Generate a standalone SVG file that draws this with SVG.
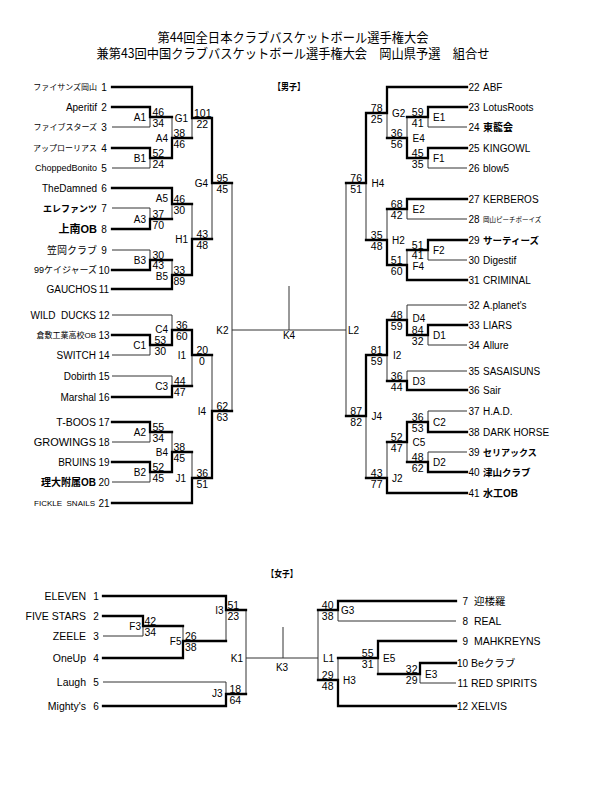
<svg xmlns="http://www.w3.org/2000/svg" width="610" height="791" viewBox="0 0 610 791">
<style>
text{font-family:"Liberation Sans","Noto Sans CJK JP",sans-serif;fill:#000}
.ttl{font-family:"Noto Sans CJK JP","Liberation Sans",sans-serif;font-size:13px;text-anchor:middle}
.hd{font-family:"Noto Sans CJK JP",sans-serif;font-size:9.5px;font-weight:bold;text-anchor:middle}
.nl{text-anchor:end;font-size:10px}
.nr{font-size:10px}
.wn{font-size:10.5px}
.num{font-size:10px}
.nc{text-anchor:middle}
.ne{text-anchor:end}
.sc{font-size:10.5px}
.se{text-anchor:end}
.lb{font-size:10px}
.le{text-anchor:end}
.lm{text-anchor:middle}
.b{font-weight:bold}
.pre{white-space:pre}
.thin{fill:none;stroke:#333;stroke-width:1}
.thick{fill:none;stroke:#000;stroke-width:2.3;stroke-linecap:square;stroke-linejoin:miter}
</style>
<rect width="610" height="791" fill="#fff"/>
<g id="title">
<text class="ttl" x="293" y="41.5" textLength="271" lengthAdjust="spacingAndGlyphs">第44回全日本クラブバスケットボール選手権大会</text>
<text class="ttl" x="293" y="57.5" textLength="393" lengthAdjust="spacingAndGlyphs">兼第43回中国クラブバスケットボール選手権大会　岡山県予選　組合せ</text>
<text class="hd" x="289" y="90" textLength="32" lengthAdjust="spacingAndGlyphs">【男子】</text>
<text class="hd" x="282" y="576.5" textLength="31" lengthAdjust="spacingAndGlyphs">【女子】</text>
</g>
<g id="connectors">
<path class="thin" d="M112 87H192M112 107H150M112 127H150M112 148H150M112 168H150M112 188H172M112 208H150M112 229H150M112 250H150M112 270H150M112 289H172M112 315H172M112 335H150M112 355H150M112 376H172M112 397H172M112 422H150M112 442H150M112 462H150M112 482H150M112 503H192"/>
<path class="thin" d="M150 107V127M150 117H172M150 148V168M150 158H172M172 117V158M172 138H192M192 87V138M192 118H212M150 208V229M150 219H172M172 188V219M172 204H192M150 250V270M150 260H172M172 260V289M172 275H192M192 204V275M192 239H212M212 118V239M212 183H232M150 335V355M150 345H172M172 315V345M172 330H192M172 376V397M172 386H192M192 330V386M192 355H212M150 422V442M150 432H172M150 462V482M150 472H172M172 432V472M172 452H192M192 452V503M192 478H212M212 355V478M212 411H232M232 183V411M232 330H346M289 286V330"/>
<path class="thin" d="M387 87H467M428 107H467M428 127H467M428 148H467M428 168H467M407 199H467M407 219H467M428 240H467M428 260H467M407 280H467M407 305H467M428 325H467M428 345H467M407 371H467M407 390H467M428 411H467M428 432H467M428 452H467M428 472H467M387 493H467"/>
<path class="thin" d="M428 107V127M428 117H407M428 148V168M428 158H407M407 117V158M407 138H387M387 87V138M387 113H366M407 199V219M407 209H387M428 240V260M428 250H407M407 250V280M407 265H387M387 209V265M387 240H366M366 113V240M366 183H346M428 325V345M428 335H407M407 305V335M407 320H387M407 371V390M407 381H387M387 320V381M387 355H366M428 411V432M428 422H407M428 452V472M428 462H407M407 422V462M407 442H387M387 442V493M387 478H366M366 355V478M366 416H346M346 183V416"/>
<path class="thick" d="M112 107H150V117H172M112 148H150V158H172M172 158V138H192M112 87H192V118H212M112 229H150V219H172M112 188H172V204H192M112 270H150V260H172M112 289H172V275H192M192 275V239H212M212 118V183H232M112 335H150V345H172M172 345V330H192M112 397H172V386H192M192 330V355H212M112 422H150V432H172M112 462H150V472H172M172 472V452H192M112 503H192V478H212M212 478V411H232"/>
<path class="thick" d="M467 107H428V117H407M467 148H428V158H407M407 158V138H387M467 87H387V113H366M467 199H407V209H387M467 240H428V250H407M467 280H407V265H387M387 265V240H366M366 113V183H346M467 325H428V335H407M407 335V320H387M467 390H407V381H387M387 320V355H366M467 432H428V422H407M467 472H428V462H407M407 422V442H387M467 493H387V478H366M366 355V416H346"/>
<path class="thin" d="M103 596H226M103 616H143M103 636H143M103 658H183M103 682H226M103 706H226M338 601H456M338 621H456M378 641H456M420 663H456M420 683H456M338 706H456"/>
<path class="thin" d="M143 616V636M143 626H183M183 626V658M183 641H226M226 596V641M226 610H246M226 682V706M226 694H246M246 610V694M246 658H318M283 627V658M338 601V621M338 610H318M420 663V683M420 674H378M378 641V674M378 658H338M338 658V706M338 680H318M318 610V680"/>
<path class="thick" d="M103 616H143V626H183M103 658H183V641H226M103 596H226V610H246M103 706H226V694H246M456 601H338V610H318M456 663H420V674H378M456 641H378V658H338M456 706H338V680H318"/>
</g>
<g id="team-1"><text class="nl" x="97" y="90" style="font-size:8px">ファイサンズ岡山</text><text class="num nc" x="104" y="90.5">1</text></g>
<g id="team-2"><text class="nl" x="97" y="110.5">Aperitif</text><text class="num nc" x="104" y="110.5">2</text></g>
<g id="team-3"><text class="nl" x="97" y="130" style="font-size:8px">ファイブスターズ</text><text class="num nc" x="104" y="130.5">3</text></g>
<g id="team-4"><text class="nl" x="97" y="151" style="font-size:8px">アップローリアス</text><text class="num nc" x="104" y="151.5">4</text></g>
<g id="team-5"><text class="nl" x="97" y="171.2" style="font-size:9px">ChoppedBonito</text><text class="num nc" x="104" y="171.5">5</text></g>
<g id="team-6"><text class="nl" x="97" y="191.5">TheDamned</text><text class="num nc" x="104" y="191.5">6</text></g>
<g id="team-7"><text class="nl b" x="97" y="211.5" style="font-size:9px">エレファンツ</text><text class="num nc" x="104" y="211.5">7</text></g>
<g id="team-8"><text class="nl b" x="97" y="233" style="font-size:11px">上南OB</text><text class="num nc" x="104" y="232.5">8</text></g>
<g id="team-9"><text class="nl" x="97" y="253.5">笠岡クラブ</text><text class="num nc" x="104" y="253.5">9</text></g>
<g id="team-10"><text class="nl" x="97" y="273.3" style="font-size:9px">99ケイジャーズ</text><text class="num nc" x="104" y="273.5">10</text></g>
<g id="team-11"><text class="nl" x="97" y="292.5">GAUCHOS</text><text class="num nc" x="104" y="292.5">11</text></g>
<g id="team-12"><text class="nl pre" x="96" y="318.5">WILD  DUCKS</text><text class="num nc" x="104" y="318.5">12</text></g>
<g id="team-13"><text class="nl" x="96" y="338" style="font-size:8px">倉敷工業高校OB</text><text class="num nc" x="104" y="338.5">13</text></g>
<g id="team-14"><text class="nl" x="96" y="358.5">SWITCH</text><text class="num nc" x="104" y="358.5">14</text></g>
<g id="team-15"><text class="nl" x="96" y="379.5">Dobirth</text><text class="num nc" x="104" y="379.5">15</text></g>
<g id="team-16"><text class="nl" x="96" y="400.5">Marshal</text><text class="num nc" x="104" y="400.5">16</text></g>
<g id="team-17"><text class="nl" x="96" y="425.7" style="font-size:10.5px">T-BOOS</text><text class="num nc" x="104" y="425.5">17</text></g>
<g id="team-18"><text class="nl" x="96" y="446" style="font-size:11px">GROWINGS</text><text class="num nc" x="104" y="445.5">18</text></g>
<g id="team-19"><text class="nl" x="96" y="465.5">BRUINS</text><text class="num nc" x="104" y="465.5">19</text></g>
<g id="team-20"><text class="nl b" x="96" y="485.5">理大附属OB</text><text class="num nc" x="104" y="485.5">20</text></g>
<g id="team-21"><text class="nl pre" x="95" y="506" style="font-size:8px">FICKLE  SNAILS</text><text class="num nc" x="104" y="506.5">21</text></g>
<g id="team-22"><text class="num" x="468.5" y="90.5">22</text><text class="nr" x="483" y="90.5">ABF</text></g>
<g id="team-23"><text class="num" x="468.5" y="110.5">23</text><text class="nr" x="483" y="110.5">LotusRoots</text></g>
<g id="team-24"><text class="num" x="468.5" y="130.5">24</text><text class="nr b" x="483" y="131">東籠会</text></g>
<g id="team-25"><text class="num" x="468.5" y="151.5">25</text><text class="nr" x="483" y="151.5">KINGOWL</text></g>
<g id="team-26"><text class="num" x="468.5" y="171.5">26</text><text class="nr" x="483" y="171.5">blow5</text></g>
<g id="team-27"><text class="num" x="468.5" y="202.5">27</text><text class="nr" x="483" y="202.5">KERBEROS</text></g>
<g id="team-28"><text class="num" x="468.5" y="222.5">28</text><text class="nr" x="483" y="221.8" style="font-size:6.5px">岡山ピーチボーイズ</text></g>
<g id="team-29"><text class="num" x="468.5" y="243.5">29</text><text class="nr b" x="483" y="244" style="font-size:9.5px">サーティーズ</text></g>
<g id="team-30"><text class="num" x="468.5" y="263.5">30</text><text class="nr" x="483" y="263.5">Digestif</text></g>
<g id="team-31"><text class="num" x="468.5" y="283.5">31</text><text class="nr" x="483" y="283.5">CRIMINAL</text></g>
<g id="team-32"><text class="num" x="468.5" y="308.5">32</text><text class="nr" x="483" y="308.5">A.planet's</text></g>
<g id="team-33"><text class="num" x="468.5" y="328.5">33</text><text class="nr" x="483" y="328.5">LIARS</text></g>
<g id="team-34"><text class="num" x="468.5" y="348.5">34</text><text class="nr" x="483" y="348.5">Allure</text></g>
<g id="team-35"><text class="num" x="468.5" y="374.5">35</text><text class="nr" x="483" y="374.5">SASAISUNS</text></g>
<g id="team-36"><text class="num" x="468.5" y="393.5">36</text><text class="nr" x="483" y="393.5">Sair</text></g>
<g id="team-37"><text class="num" x="468.5" y="414.5">37</text><text class="nr" x="483" y="414.5">H.A.D.</text></g>
<g id="team-38"><text class="num" x="468.5" y="435.5">38</text><text class="nr" x="483" y="435.5">DARK HORSE</text></g>
<g id="team-39"><text class="num" x="468.5" y="455.5">39</text><text class="nr b" x="483" y="455.8" style="font-size:9px">セリアックス</text></g>
<g id="team-40"><text class="num" x="468.5" y="475.5">40</text><text class="nr b" x="483" y="476" style="font-size:9.5px">津山クラブ</text></g>
<g id="team-41"><text class="num" x="468.5" y="496.5">41</text><text class="nr b" x="483" y="497">水工OB</text></g>
<g id="match-A1"><text class="lb le" x="146" y="120.5">A1</text><text class="sc" x="152.5" y="115.5">46</text><text class="sc" x="152.5" y="126.5">34</text></g>
<g id="match-B1"><text class="lb le" x="146" y="161.5">B1</text><text class="sc" x="152.5" y="156.5">52</text><text class="sc" x="152.5" y="167.5">24</text></g>
<g id="match-A4"><text class="lb le" x="168" y="141.5">A4</text><text class="sc" x="173.5" y="136.5">38</text><text class="sc" x="173.5" y="147.5">46</text></g>
<g id="match-G1"><text class="lb le" x="188" y="121.5">G1</text><text class="sc" x="194" y="116.5">101</text><text class="sc" x="196.5" y="127.5">22</text></g>
<g id="match-A3"><text class="lb le" x="146" y="222.5">A3</text><text class="sc" x="152.5" y="217.5">37</text><text class="sc" x="152.5" y="228.5">70</text></g>
<g id="match-A5"><text class="lb le" x="168" y="202">A5</text><text class="sc" x="173.5" y="202.5">46</text><text class="sc" x="173.5" y="213.5">30</text></g>
<g id="match-B3"><text class="lb le" x="146" y="263.5">B3</text><text class="sc" x="152.5" y="258.5">30</text><text class="sc" x="152.5" y="269">43</text></g>
<g id="match-B5"><text class="lb le" x="168" y="279.5">B5</text><text class="sc" x="173.5" y="273.5">33</text><text class="sc" x="173.5" y="284.5">89</text></g>
<g id="match-H1"><text class="lb le" x="188" y="242.5">H1</text><text class="sc" x="196.5" y="237.5">43</text><text class="sc" x="196.5" y="248.5">48</text></g>
<g id="match-G4"><text class="lb le" x="208" y="186.5">G4</text><text class="sc" x="216.5" y="181.5">95</text><text class="sc" x="216.5" y="192.5">45</text></g>
<g id="match-C1"><text class="lb le" x="146" y="348.5">C1</text><text class="sc" x="154.5" y="344">53</text><text class="sc" x="154.5" y="355">30</text></g>
<g id="match-C4"><text class="lb le" x="168" y="332.5">C4</text><text class="sc" x="176" y="328.5">36</text><text class="sc" x="176" y="339.5">60</text></g>
<g id="match-C3"><text class="lb le" x="168" y="389.5">C3</text><text class="sc" x="174" y="384.5">44</text><text class="sc" x="174" y="395.5">47</text></g>
<g id="match-I1"><text class="lb le" x="186" y="358.5">I1</text><text class="sc" x="196.5" y="353.5">20</text><text class="sc" x="199" y="364.5">0</text></g>
<g id="match-A2"><text class="lb le" x="146" y="435.5">A2</text><text class="sc" x="152.5" y="430.5">55</text><text class="sc" x="152.5" y="441.5">34</text></g>
<g id="match-B2"><text class="lb le" x="146" y="475.5">B2</text><text class="sc" x="152.5" y="470.5">52</text><text class="sc" x="152.5" y="481.5">45</text></g>
<g id="match-B4"><text class="lb le" x="168" y="455.5">B4</text><text class="sc" x="173.5" y="450.5">38</text><text class="sc" x="173.5" y="461.5">45</text></g>
<g id="match-J1"><text class="lb le" x="186" y="481.5">J1</text><text class="sc" x="196.5" y="476.5">36</text><text class="sc" x="196.5" y="487.5">51</text></g>
<g id="match-I4"><text class="lb le" x="206" y="414.5">I4</text><text class="sc" x="216.5" y="409.5">62</text><text class="sc" x="216.5" y="420.5">63</text></g>
<g id="match-K2"><text class="lb le" x="228.5" y="333.5">K2</text></g>
<g id="match-K4"><text class="lb lm" x="289" y="339">K4</text></g>
<g id="match-E1"><text class="lb" x="433" y="120.5">E1</text><text class="sc se" x="423.5" y="115.5">59</text><text class="sc se" x="423.5" y="126.5">41</text></g>
<g id="match-F1"><text class="lb" x="433" y="161.5">F1</text><text class="sc se" x="423.5" y="156.5">45</text><text class="sc se" x="423.5" y="167.5">35</text></g>
<g id="match-E4"><text class="lb" x="412.5" y="141.5">E4</text><text class="sc se" x="402.5" y="136.5">36</text><text class="sc se" x="402.5" y="147.5">56</text></g>
<g id="match-G2"><text class="lb" x="392" y="116.5">G2</text><text class="sc se" x="382.5" y="111.5">78</text><text class="sc se" x="382.5" y="122.5">25</text></g>
<g id="match-E2"><text class="lb" x="412.5" y="212.5">E2</text><text class="sc se" x="402.5" y="207.5">68</text><text class="sc se" x="402.5" y="218.5">42</text></g>
<g id="match-F2"><text class="lb" x="433" y="253.5">F2</text><text class="sc se" x="423.5" y="248.5">51</text><text class="sc se" x="423.5" y="259">41</text></g>
<g id="match-F4"><text class="lb" x="412.5" y="270">F4</text><text class="sc se" x="402.5" y="263.5">51</text><text class="sc se" x="402.5" y="274.5">60</text></g>
<g id="match-H2"><text class="lb" x="392" y="243.5">H2</text><text class="sc se" x="382.5" y="238.5">35</text><text class="sc se" x="382.5" y="249.5">48</text></g>
<g id="match-H4"><text class="lb" x="371.5" y="186.5">H4</text><text class="sc se" x="362" y="181.5">76</text><text class="sc se" x="362" y="192.5">51</text></g>
<g id="match-D1"><text class="lb" x="433" y="338.5">D1</text><text class="sc se" x="423.5" y="334">84</text><text class="sc se" x="423.5" y="344.5">32</text></g>
<g id="match-D4"><text class="lb" x="412.5" y="322">D4</text><text class="sc se" x="402.5" y="318.5">48</text><text class="sc se" x="402.5" y="329.5">59</text></g>
<g id="match-D3"><text class="lb" x="412.5" y="384.5">D3</text><text class="sc se" x="402.5" y="379.5">36</text><text class="sc se" x="402.5" y="390.5">44</text></g>
<g id="match-I2"><text class="lb" x="393" y="358.5">I2</text><text class="sc se" x="382.5" y="353.5">81</text><text class="sc se" x="382.5" y="364.5">59</text></g>
<g id="match-C2"><text class="lb" x="433" y="425.5">C2</text><text class="sc se" x="423.5" y="420.5">36</text><text class="sc se" x="423.5" y="431.5">53</text></g>
<g id="match-D2"><text class="lb" x="433" y="465.5">D2</text><text class="sc se" x="423.5" y="460.5">48</text><text class="sc se" x="423.5" y="471.5">62</text></g>
<g id="match-C5"><text class="lb" x="412.5" y="445.5">C5</text><text class="sc se" x="402.5" y="440.5">52</text><text class="sc se" x="402.5" y="451.5">47</text></g>
<g id="match-J2"><text class="lb" x="392" y="481.5">J2</text><text class="sc se" x="382.5" y="476.5">43</text><text class="sc se" x="382.5" y="487.5">77</text></g>
<g id="match-J4"><text class="lb" x="371.5" y="419.5">J4</text><text class="sc se" x="362" y="414.5">87</text><text class="sc se" x="362" y="425.5">82</text></g>
<g id="match-L2"><text class="lb" x="348" y="333.5">L2</text></g>
<g id="wteam-1"><text class="nl wn" x="86" y="599.5">ELEVEN</text><text class="num nc" x="96" y="599.5">1</text></g>
<g id="wteam-2"><text class="nl wn" x="86" y="619.5">FIVE STARS</text><text class="num nc" x="96" y="619.5">2</text></g>
<g id="wteam-3"><text class="nl wn" x="86" y="639.5">ZEELE</text><text class="num nc" x="96" y="639.5">3</text></g>
<g id="wteam-4"><text class="nl wn" x="86" y="661.5">OneUp</text><text class="num nc" x="96" y="661.5">4</text></g>
<g id="wteam-5"><text class="nl wn" x="86" y="685.5">Laugh</text><text class="num nc" x="96" y="685.5">5</text></g>
<g id="wteam-6"><text class="nl wn" x="86" y="709.5">Mighty's</text><text class="num nc" x="96" y="709.5">6</text></g>
<g id="wteam-7"><text class="num ne" x="468" y="604.5">7</text><text class="nr wn" x="474" y="605">迎楼羅</text></g>
<g id="wteam-8"><text class="num ne" x="468" y="624.5">8</text><text class="nr wn" x="474" y="624.5">REAL</text></g>
<g id="wteam-9"><text class="num ne" x="468" y="644.5">9</text><text class="nr wn" x="474" y="644.5">MAHKREYNS</text></g>
<g id="wteam-10"><text class="num ne" x="468" y="666.5">10</text><text class="nr wn" x="471" y="666.5">Beクラブ</text></g>
<g id="wteam-11"><text class="num ne" x="468" y="686.5">11</text><text class="nr wn" x="471" y="686.5">RED SPIRITS</text></g>
<g id="wteam-12"><text class="num ne" x="468" y="709.5">12</text><text class="nr wn" x="471" y="709.5">XELVIS</text></g>
<g id="wmatch-F3"><text class="lb le" x="141" y="629.5">F3</text><text class="sc" x="144.5" y="624.5">42</text><text class="sc" x="144.5" y="635.5">34</text></g>
<g id="wmatch-F5"><text class="lb le" x="181.5" y="644.5">F5</text><text class="sc" x="185" y="639.5">26</text><text class="sc" x="185" y="650.5">38</text></g>
<g id="wmatch-I3"><text class="lb le" x="223.5" y="613.5">I3</text><text class="sc" x="227.5" y="608.5">51</text><text class="sc" x="227.5" y="619.5">23</text></g>
<g id="wmatch-J3"><text class="lb le" x="222.5" y="697">J3</text><text class="sc" x="229.5" y="692.5">18</text><text class="sc" x="229.5" y="703.5">64</text></g>
<g id="wmatch-K1"><text class="lb le" x="243" y="661.5">K1</text></g>
<g id="wmatch-K3"><text class="lb lm" x="282" y="670.5">K3</text></g>
<g id="wmatch-G3"><text class="lb" x="341" y="613.5">G3</text><text class="sc se" x="333.5" y="608.5">40</text><text class="sc se" x="333.5" y="619.5">38</text></g>
<g id="wmatch-E3"><text class="lb" x="425" y="677.5">E3</text><text class="sc se" x="417.5" y="672.5">32</text><text class="sc se" x="417.5" y="683.5">29</text></g>
<g id="wmatch-E5"><text class="lb" x="383" y="661.5">E5</text><text class="sc se" x="373.5" y="656.5">55</text><text class="sc se" x="373.5" y="667.5">31</text></g>
<g id="wmatch-H3"><text class="lb" x="343" y="683.5">H3</text><text class="sc se" x="333.5" y="678.5">29</text><text class="sc se" x="333.5" y="689.5">48</text></g>
<g id="wmatch-L1"><text class="lb" x="323" y="661.5">L1</text></g>
</svg>
